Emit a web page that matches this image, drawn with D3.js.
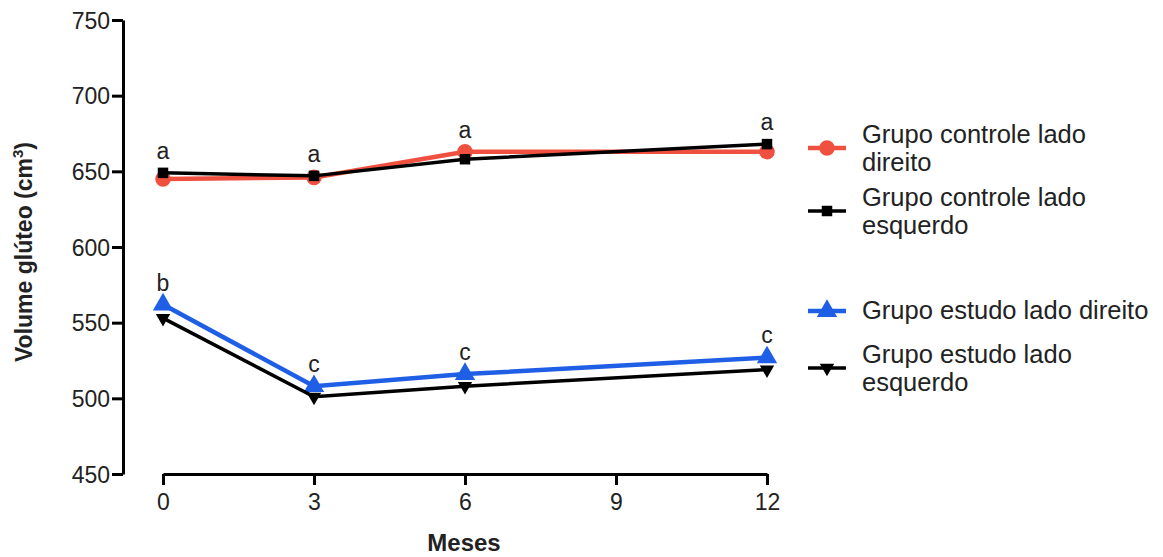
<!DOCTYPE html>
<html>
<head>
<meta charset="utf-8">
<script src="https://cdn.jsdelivr.net/npm/d3@7"></script>
<style>
  body { margin: 0; background: #fff; }
  text { font-family: "Liberation Sans", Arial, sans-serif; fill: #222; }
</style>
</head>
<body>
<script>
// dados
var meses = [0, 3, 6, 12];
var xTicks = [0, 3, 6, 9, 12];
var yTicks = [450, 500, 550, 600, 650, 700, 750];
var controleDireito = [645, 646, 663, 663];
var controleEsquerdo = [649, 647, 658, 668];
var estudoDireito = [562, 508, 516, 527];
var estudoEsquerdo = [553, 501, 508, 519];
var letrasControle = ["a", "a", "a", "a"];
var letrasEstudo = ["b", "c", "c", "c"];

var W = 1163, H = 557;
var svg = d3.select("body").append("svg").attr("width", W).attr("height", H);

var x = d3.scaleLinear().domain([0, 12]).range([163, 767]);
var y = d3.scaleLinear().domain([450, 750]).range([474, 20]);

// eixo y
var yAxis = svg.append("g").attr("transform", "translate(123,0)")
    .call(d3.axisLeft(y).tickValues(yTicks).tickSize(11).tickPadding(2).tickSizeOuter(0));
yAxis.select(".domain").attr("stroke", "#000").attr("stroke-width", 3);
yAxis.selectAll(".tick line").attr("stroke", "#000").attr("stroke-width", 3);
yAxis.selectAll(".tick text").style("font-size", "23px").attr("dy", "0.36em")
    .style("font-family", "Liberation Sans, Arial, sans-serif").attr("fill", "#222");

// eixo x
var xAxis = svg.append("g").attr("transform", "translate(0,474)")
    .call(d3.axisBottom(x).tickValues(xTicks).tickSize(11).tickPadding(9).tickSizeOuter(0));
xAxis.select(".domain").attr("stroke", "#000").attr("stroke-width", 3);
xAxis.selectAll(".tick line").attr("stroke", "#000").attr("stroke-width", 3);
xAxis.selectAll(".tick text").style("font-size", "23px")
    .style("font-family", "Liberation Sans, Arial, sans-serif").attr("fill", "#222");

svg.append("text").attr("x", 464).attr("y", 551).attr("text-anchor", "middle")
    .style("font-size", "24px").attr("font-weight", "bold").text("Meses");

var yl = svg.append("text").attr("transform", "translate(32,252) rotate(-90)")
    .attr("text-anchor", "middle").style("font-size", "23px").attr("font-weight", "bold");
yl.append("tspan").text("Volume glúteo (cm");
yl.append("tspan").style("font-size", "15px").attr("dy", -9).text("3");
yl.append("tspan").attr("dy", 9).text(")");

var red = "#f0503f", blue = "#1f5fe6";
var series = [
  { nome: ["Grupo controle lado", "direito"], vals: controleDireito, cor: red, lw: 4.5, sym: d3.symbolCircle, size: 190, rot: 0, ly: 148 },
  { nome: ["Grupo controle lado", "esquerdo"], vals: controleEsquerdo, cor: "#000", lw: 3.5, sym: d3.symbolSquare, size: 110, rot: 0, ly: 211 },
  { nome: ["Grupo estudo lado direito"], vals: estudoDireito, cor: blue, lw: 4.5, sym: d3.symbolTriangle, size: 180, rot: 0, ly: 311 },
  { nome: ["Grupo estudo lado", "esquerdo"], vals: estudoEsquerdo, cor: "#000", lw: 3.5, sym: d3.symbolTriangle, size: 90, rot: 180, ly: 368 }
];

var line = d3.line().x(function(d) { return x(d[0]); }).y(function(d) { return y(d[1]); });

series.forEach(function(s) {
  var pts = meses.map(function(m, i) { return [m, s.vals[i]]; });
  svg.append("path").datum(pts).attr("d", line)
      .attr("fill", "none").attr("stroke", s.cor).attr("stroke-width", s.lw);
  svg.selectAll(null).data(pts).enter().append("path")
      .attr("d", d3.symbol().type(s.sym).size(s.size))
      .attr("transform", function(d) { return "translate(" + x(d[0]) + "," + y(d[1]) + ") rotate(" + s.rot + ")"; })
      .attr("fill", s.cor);

  // legenda
  svg.append("line").attr("x1", 808).attr("x2", 846).attr("y1", s.ly).attr("y2", s.ly)
      .attr("stroke", s.cor).attr("stroke-width", s.lw);
  svg.append("path").attr("d", d3.symbol().type(s.sym).size(s.size))
      .attr("transform", "translate(827," + s.ly + ") rotate(" + s.rot + ")").attr("fill", s.cor);
  var t = svg.append("text").style("font-size", "25.5px");
  var y0 = s.nome.length === 1 ? s.ly + 8 : s.ly - 5;
  s.nome.forEach(function(n, i) {
    t.append("tspan").attr("x", 862).attr("y", y0 + i * 28).text(n);
  });
});

// letras de significância
function letras(arr, vals) {
  svg.selectAll(null).data(meses).enter().append("text")
      .attr("x", function(m) { return x(m); })
      .attr("y", function(m, i) { return y(vals[i]) - 14; })
      .attr("text-anchor", "middle").style("font-size", "23px")
      .text(function(m, i) { return arr[i]; });
}
letras(letrasControle, meses.map(function(m, i) { return Math.max(controleDireito[i], controleEsquerdo[i]); }));
letras(letrasEstudo, meses.map(function(m, i) { return Math.max(estudoDireito[i], estudoEsquerdo[i]); }));
</script>
</body>
</html>
